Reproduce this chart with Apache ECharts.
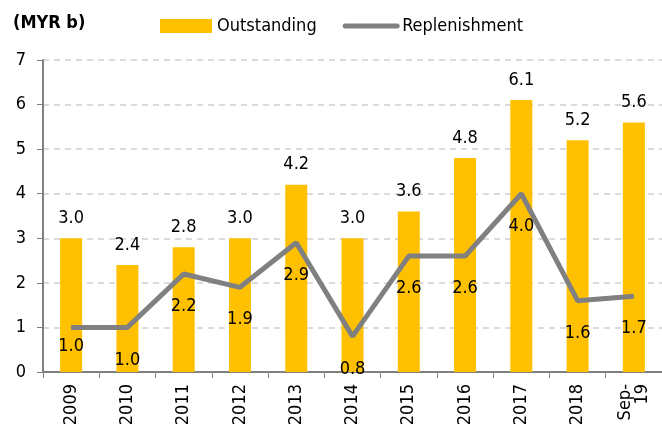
<!DOCTYPE html>
<html>
<head>
<meta charset="utf-8">
<script src="https://cdn.jsdelivr.net/npm/echarts@6/dist/echarts.min.js"></script>
<style>
  html, body { margin: 0; padding: 0; background: #fff; }
  #chart { width: 662px; height: 430px; }
</style>
</head>
<body>
<div id="chart"></div>
<script>
var categories = ['2009', '2010', '2011', '2012', '2013', '2014', '2015', '2016', '2017', '2018', 'Sep-\n19'];
var outstanding = [3.0, 2.4, 2.8, 3.0, 4.2, 3.0, 3.6, 4.8, 6.1, 5.2, 5.6];
var replenishment = [1.0, 1.0, 2.2, 1.9, 2.9, 0.8, 2.6, 2.6, 4.0, 1.6, 1.7];

var font = 'DejaVu Sans Condensed';

// 折线标签位置微调（2009 的标签更贴近折线）
var lineLabelShift = { 0: -14 };

var chart = echarts.init(document.getElementById('chart'));

function fmt(p) { return p.value.toFixed(1); }

var option = {
  animation: false,
  textStyle: { fontFamily: font },
  title: {
    text: '(MYR b)',
    left: 8,
    top: 9,
    textStyle: { fontFamily: font, fontSize: 18, fontWeight: 'bold', color: '#000' }
  },
  legend: {
    top: 12,
    left: 155,
    itemGap: 26,
    itemWidth: 52,
    itemHeight: 14,
    textStyle: { fontFamily: font, fontSize: 18, color: '#000' },
    data: [
      { name: 'Outstanding', icon: 'rect', itemStyle: { color: '#FFC000' } },
      { name: 'Replenishment', itemStyle: { opacity: 0 }, lineStyle: { width: 5, cap: 'round', color: '#808080' } }
    ]
  },
  grid: { left: 43, right: 0, top: 60, bottom: 58 },
  xAxis: {
    type: 'category',
    data: categories,
    axisLine: { lineStyle: { color: '#808080', width: 2 } },
    axisTick: { show: true, length: 6, lineStyle: { color: '#808080' } },
    axisLabel: { rotate: 90, color: '#000', fontSize: 18, fontFamily: font, margin: 12, lineHeight: 17 }
  },
  yAxis: {
    type: 'value',
    min: 0,
    max: 7,
    interval: 1,
    axisLine: { show: true, lineStyle: { color: '#808080', width: 2 } },
    axisTick: { show: true, length: 6, lineStyle: { color: '#808080' } },
    axisLabel: { color: '#000', fontSize: 18, fontFamily: font, margin: 17 },
    splitLine: { lineStyle: { color: '#d0d0d0', type: [6, 5], width: 1.5 } }
  },
  series: [{
    name: 'Outstanding',
    type: 'bar',
    barWidth: 22,
    itemStyle: { color: '#FFC000' },
    label: {
      show: true,
      position: 'top',
      distance: 11,
      color: '#000',
      fontSize: 18,
      fontFamily: font,
      formatter: fmt
    },
    data: outstanding
  }, {
    name: 'Replenishment',
    type: 'line',
    symbol: 'circle',
    symbolSize: 1,
    lineStyle: { color: '#808080', width: 5 },
    itemStyle: { color: '#808080' },
    label: {
      show: true,
      position: 'bottom',
      distance: 23,
      color: '#000',
      fontSize: 18,
      fontFamily: font,
      formatter: fmt
    },
    labelLayout: function (params) {
      var s = lineLabelShift[params.dataIndex];
      if (s) {
        return { dy: s };
      }
    },
    data: replenishment
  }]
};

chart.setOption(option);
</script>
</body>
</html>
